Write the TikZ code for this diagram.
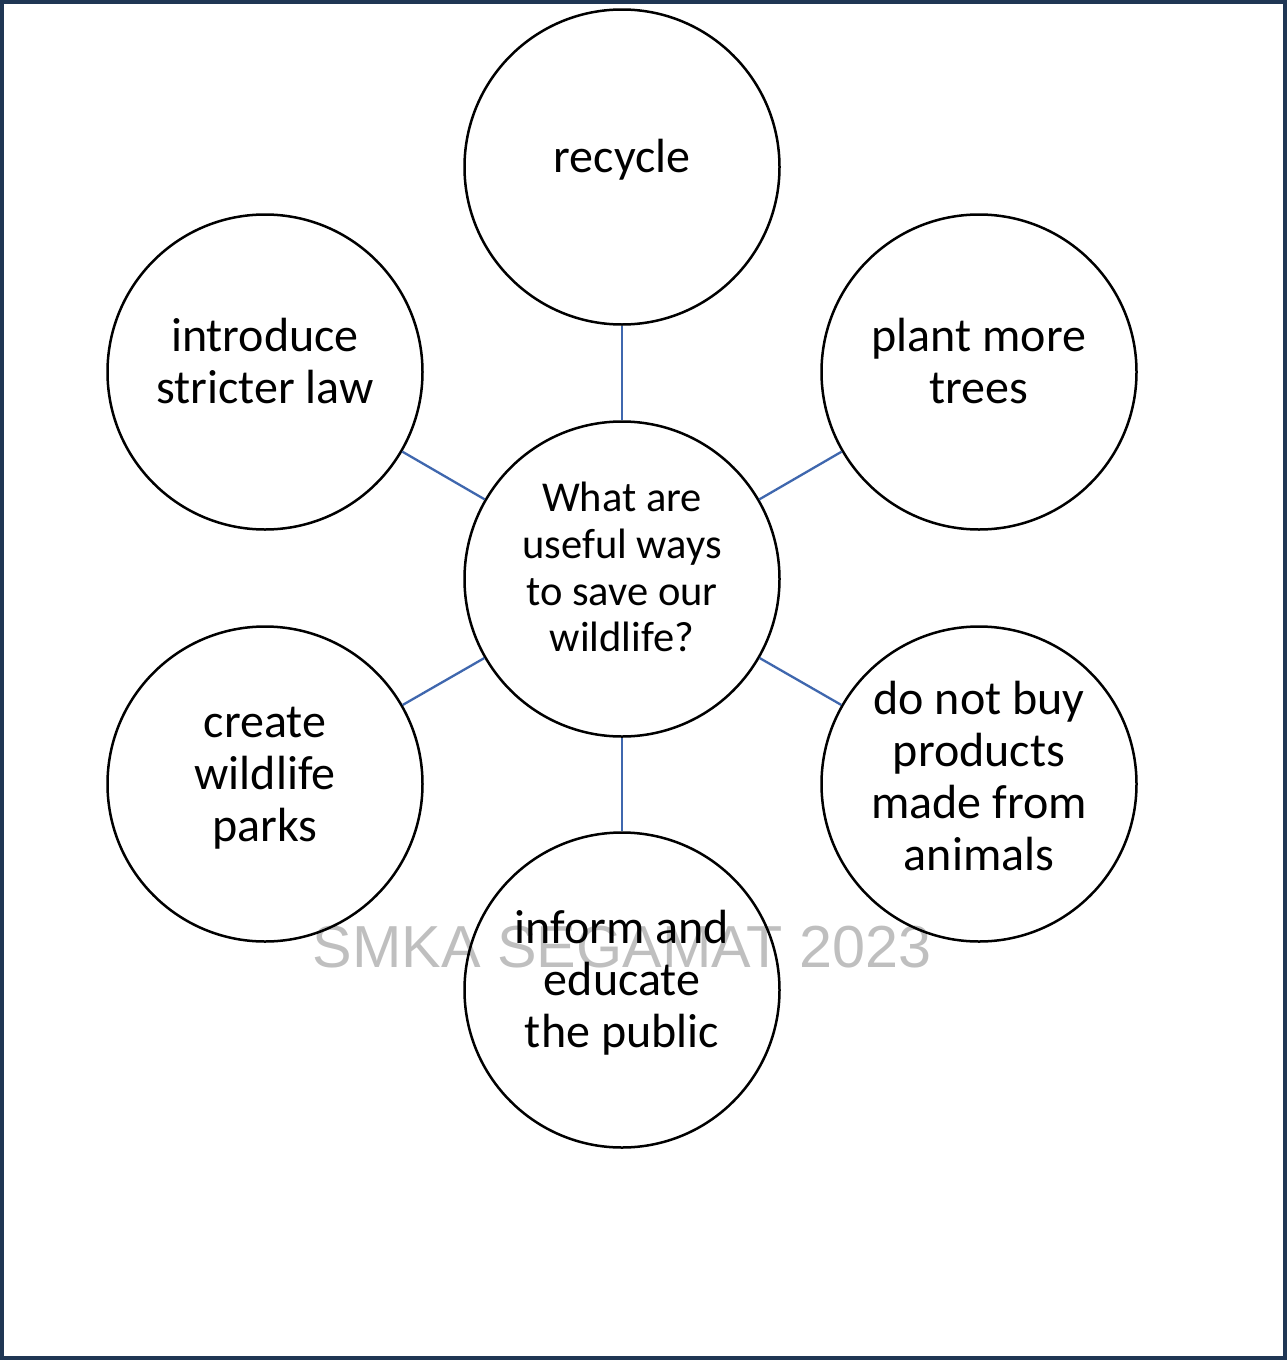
\documentclass[tikz,border=0pt]{standalone}
\usepackage{fontspec}
\setmainfont{Carlito}
\newfontfamily\wmfont{Liberation Sans}
\definecolor{framenavy}{RGB}{31,54,84}
\definecolor{linkblue}{RGB}{63,103,174}
\newcommand\ostrutx{\vrule height 31pt depth 20.9pt width 0pt\relax}
\newcommand\bstrutx{\vrule height 34pt depth 17.9pt width 0pt\relax}
\newcommand\hstrutx{\vrule height 26pt depth 20.6pt width 0pt\relax}
\newcommand\olin[1]{\ostrutx\smash{#1}}
\newcommand\blin[1]{\bstrutx\smash{#1}}
\newcommand\hlin[1]{\hstrutx\smash{#1}}
\begin{document}
\begin{tikzpicture}[x=1pt,y=-1pt,
  bubble/.style={circle,draw=black,line width=2.5pt,minimum size=315pt,inner sep=0pt,align=center,
    font=\fontsize{48}{52}\selectfont},
  hub/.style={bubble,font=\fontsize{42.5}{46.7}\selectfont},
  link/.style={draw=linkblue,line width=2.3pt}]
\useasboundingbox (0,0) rectangle (1287,1360);
\fill[white] (0,0) rectangle (1287,1360);
\draw[framenavy,line width=4pt] (2,2) rectangle (1285,1358);

\node[hub] (c) at (622,579) {\hlin{What are}\\\hlin{useful ways}\\\hlin{to save our}\\\hlin{wildlife?}};
\node[bubble] (t) at (622,167) {\olin{recycle}};
\node[bubble] (tl) at (265,372) {\olin{introduce}\\\olin{stricter law}};
\node[bubble] (tr) at (979,372) {\olin{plant more}\\\olin{trees}};
\node[bubble] (bl) at (265,784) {\olin{create}\\\olin{wildlife}\\\olin{parks}};
\node[bubble] (br) at (979,784) {\blin{do not buy}\\\blin{products}\\\blin{made from}\\\blin{animals}};
\node[bubble] (b) at (622,990) {\olin{inform and}\\\olin{educate}\\\olin{the public}};

\draw[link] (c) -- (t);
\draw[link] (c) -- (tl);
\draw[link] (c) -- (tr);
\draw[link] (c) -- (bl);
\draw[link] (c) -- (br);
\draw[link] (c) -- (b);

\node[anchor=base,text=black,opacity=0.25,font=\wmfont\fontsize{59.3}{59.3}\selectfont] (wm) at (622,967) {SMKA SEGAMAT 2023};
\end{tikzpicture}
\end{document}
